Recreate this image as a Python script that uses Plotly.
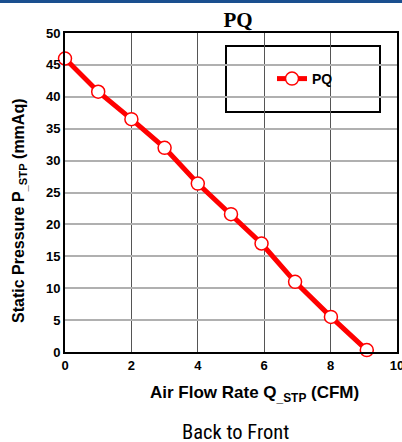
import plotly.graph_objects as go

flow_cfm = [0, 1, 2, 3, 4, 5, 5.92, 6.93, 8.01, 9.09]
pressure_mmaq = [46.0, 40.8, 36.5, 32.0, 26.4, 21.6, 17.0, 11.0, 5.5, 0.3]
x_ticks = [0, 2, 4, 6, 8, 10]
y_ticks = [0, 5, 10, 15, 20, 25, 30, 35, 40, 45, 50]
series_name = "PQ"
x_title = "<b>Air Flow Rate Q<sub>_STP</sub> (CFM)</b>"
y_title = "<b>Static Pressure P<sub>_STP</sub> (mmAq)</b>"
chart_title = "<b>PQ</b>"
caption = "Back to Front"

W, H = 402, 442
L, R, T, B = 65, 5, 33, 90
PW, PH = W - L - R, H - T - B

def px(x):
    return (x - L) / PW

def py(y):
    return (H - B - y) / PH

AX_FONT = "Arial, Liberation Sans, sans-serif"

fig = go.Figure()
fig.add_trace(go.Scatter(
    x=flow_cfm, y=pressure_mmaq, mode="lines+markers", name=series_name,
    line=dict(color="#ff0000", width=5),
    marker=dict(size=13, color="white", line=dict(color="#ff0000", width=1.5)),
    cliponaxis=False,
))

fig.update_layout(
    width=W, height=H,
    margin=dict(l=L, r=R, t=T, b=B, autoexpand=False),
    paper_bgcolor="white", plot_bgcolor="white",
    showlegend=True,
    legend=dict(x=px(305), y=py(79), xanchor="center", yanchor="middle",
                bgcolor="rgba(0,0,0,0)", borderwidth=0,
                font=dict(family=AX_FONT, size=14, color="black", weight="bold"),
                itemwidth=30),
    title=dict(text=chart_title, x=238 / W, xanchor="center", y=1 - 20 / H, yanchor="middle",
               font=dict(family="Times New Roman, Liberation Serif, serif", size=21, color="black")),
    xaxis=dict(range=[0, 10], tickvals=x_ticks, showgrid=True, gridcolor="#555555", gridwidth=1,
               showline=True, linecolor="black", linewidth=2, mirror=True, zeroline=False,
               automargin=False, ticklabeloverflow="allow",
               ticks="", tickfont=dict(family=AX_FONT, size=13, color="black", weight="bold")),
    yaxis=dict(range=[0, 50], tickvals=y_ticks, showgrid=True, gridcolor="#b0b0b0", gridwidth=1.5,
               showline=True, linecolor="black", linewidth=2, mirror=True, zeroline=False,
               automargin=False, ticklabeloverflow="allow",
               ticks="", tickfont=dict(family=AX_FONT, size=13, color="black", weight="bold")),
    shapes=[
        dict(type="rect", xref="paper", yref="paper", x0=px(0), x1=px(W),
             y0=py(3), y1=py(0), fillcolor="#1a4f8f", line=dict(width=0), layer="above"),
        dict(type="rect", xref="paper", yref="paper",
             x0=px(226), x1=px(380), y0=py(112), y1=py(46),
             fillcolor="white", line=dict(color="black", width=2), layer="below"),
    ],
    annotations=[
        dict(text=x_title, xref="paper", yref="paper", x=px(254), y=py(394),
             xanchor="center", yanchor="middle", showarrow=False,
             font=dict(family=AX_FONT, size=17, color="black")),
        dict(text=y_title, xref="paper", yref="paper", x=px(19), y=py(211), textangle=-90,
             xanchor="center", yanchor="middle", showarrow=False,
             font=dict(family=AX_FONT, size=16, color="black")),
        dict(text=caption, xref="paper", yref="paper", x=px(235), y=py(432),
             xanchor="center", yanchor="middle", showarrow=False,
             font=dict(family="Roboto Condensed, Liberation Sans Narrow, Roboto, sans-serif", size=20.5, color="black")),
    ],
)

fig.write_html("out.html", config={"displayModeBar": False},
               post_script="document.body.style.margin='0';document.body.style.overflow='hidden';")
